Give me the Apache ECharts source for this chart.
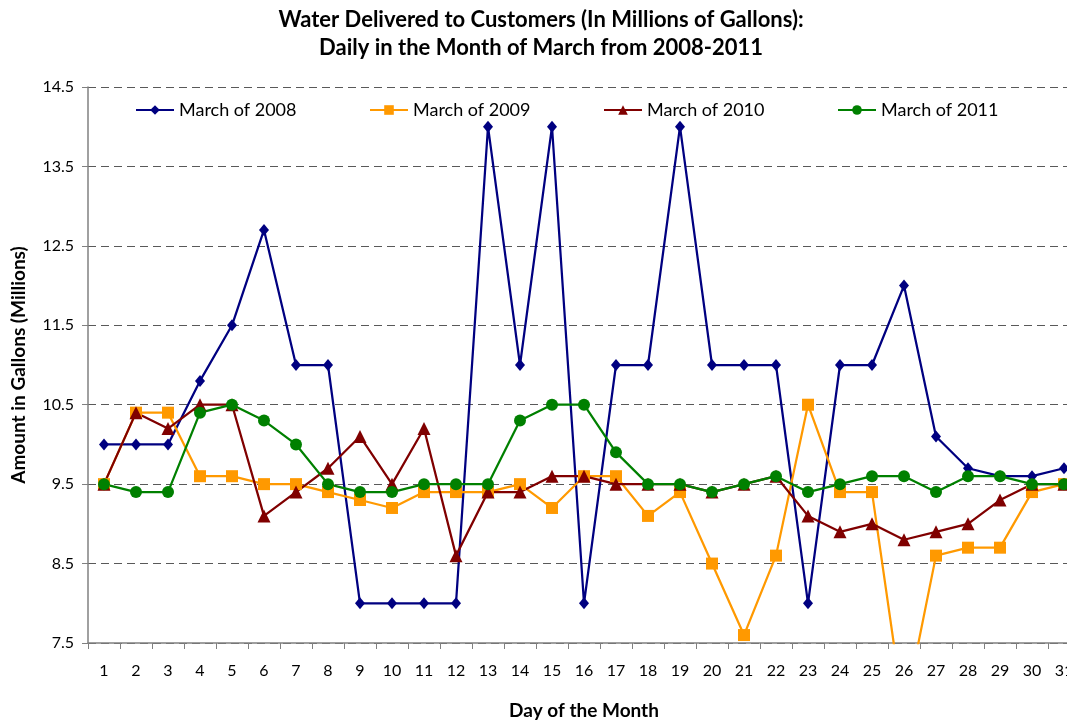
<!DOCTYPE html>
<html>
<head>
<meta charset="utf-8">
<title>Water Delivered to Customers</title>
<script src="https://cdn.jsdelivr.net/npm/echarts@6/dist/echarts.min.js"></script>
<style>
  html, body { margin: 0; padding: 0; background: #ffffff; }
  #chart { width: 1067px; height: 722px; }
</style>
</head>
<body>
<div id="chart"></div>
<script>
// Days of March
const days = Array.from({ length: 31 }, (_, i) => String(i + 1));

// Daily water delivered, millions of gallons
const march2008 = [10, 10, 10, 10.8, 11.5, 12.7, 11, 11, 8, 8, 8, 8, 14, 11, 14, 8,
  11, 11, 14, 11, 11, 11, 8, 11, 11, 12, 10.1, 9.7, 9.6, 9.6, 9.7];
const march2009 = [9.5, 10.4, 10.4, 9.6, 9.6, 9.5, 9.5, 9.4, 9.3, 9.2, 9.4, 9.4, 9.4, 9.5, 9.2, 9.6,
  9.6, 9.1, 9.4, 8.5, 7.6, 8.6, 10.5, 9.4, 9.4, 6.6, 8.6, 8.7, 8.7, 9.4, 9.5];
const march2010 = [9.5, 10.4, 10.2, 10.5, 10.5, 9.1, 9.4, 9.7, 10.1, 9.5, 10.2, 8.6, 9.4, 9.4, 9.6, 9.6,
  9.5, 9.5, 9.5, 9.4, 9.5, 9.6, 9.1, 8.9, 9.0, 8.8, 8.9, 9.0, 9.3, 9.5, 9.5];
const march2011 = [9.5, 9.4, 9.4, 10.4, 10.5, 10.3, 10.0, 9.5, 9.4, 9.4, 9.5, 9.5, 9.5, 10.3, 10.5, 10.5,
  9.9, 9.5, 9.5, 9.4, 9.5, 9.6, 9.4, 9.5, 9.6, 9.6, 9.4, 9.6, 9.6, 9.5, 9.5];

// Value axis tick positions
const yTicks = [7.5, 8.5, 9.5, 10.5, 11.5, 12.5, 13.5, 14.5];

const seriesNames = ['March of 2008', 'March of 2009', 'March of 2010', 'March of 2011'];

const FONT = 'Lato';
const chart = echarts.init(document.getElementById('chart'), null, { renderer: 'canvas' });

function lineSeries(name, data, color, symbol, size) {
  return {
    name: name,
    type: 'line',
    data: data,
    symbol: symbol,
    symbolSize: size,
    showAllSymbol: true,
    clip: true,
    itemStyle: { color: color, borderWidth: 0 },
    lineStyle: { color: color, width: 2.25 },
    emphasis: { disabled: true },
    animation: false
  };
}

function legendAt(left, name) {
  return {
    data: [name],
    left: left,
    top: 101,
    padding: 0,
    itemWidth: 38,
    itemHeight: 12,
    itemGap: 0,
    textStyle: { fontFamily: FONT, fontSize: 18, color: '#000000' },
    selectedMode: false
  };
}

chart.setOption({
  backgroundColor: '#ffffff',
  animation: false,
  title: {
    text: 'Water Delivered to Customers (In Millions of Gallons):\nDaily in the Month of March from 2008-2011',
    left: 541,
    textAlign: 'center',
    top: 6,
    padding: 0,
    textStyle: {
      fontFamily: FONT,
      fontSize: 22,
      fontWeight: 'bold',
      color: '#000000',
      lineHeight: 28
    }
  },
  legend: [
    legendAt(135, seriesNames[0]),
    legendAt(369, seriesNames[1]),
    legendAt(603, seriesNames[2]),
    legendAt(837, seriesNames[3])
  ],
  grid: { left: 88, top: 87, width: 992, height: 556, outerBoundsMode: 'none', containLabel: false },
  xAxis: {
    type: 'category',
    data: days,
    boundaryGap: true,
    name: 'Day of the Month',
    nameLocation: 'middle',
    nameGap: 58,
    nameTextStyle: { fontFamily: FONT, fontSize: 19, fontWeight: 'bold', color: '#000000' },
    axisLine: { lineStyle: { color: '#808080', width: 1.5 } },
    axisTick: { show: true, length: 6, lineStyle: { color: '#808080', width: 1 } },
    axisLabel: { fontFamily: FONT, fontSize: 16, color: '#000000', margin: 20, interval: 0 },
    splitLine: { show: false }
  },
  yAxis: {
    type: 'value',
    min: 7.5,
    max: 14.5,
    name: 'Amount in Gallons (Millions)',
    nameLocation: 'middle',
    nameGap: 60,
    nameRotate: 90,
    nameTextStyle: { fontFamily: FONT, fontSize: 19, fontWeight: 'bold', color: '#000000' },
    axisLine: { show: true, lineStyle: { color: '#808080', width: 1.5 } },
    axisTick: { show: true, length: 6, inside: false, customValues: yTicks, lineStyle: { color: '#808080', width: 1 } },
    axisLabel: {
      fontFamily: FONT, fontSize: 16, color: '#000000', margin: 14,
      customValues: yTicks,
      formatter: v => v.toFixed(1)
    },
    splitLine: { show: true, lineStyle: { color: '#595959', width: 1, type: [8, 5] } }
  },
  series: [
    lineSeries(seriesNames[0], march2008, '#000080', 'diamond', [10, 12]),
    lineSeries(seriesNames[1], march2009, '#FF9900', 'rect', 12),
    lineSeries(seriesNames[2], march2010, '#800000', 'triangle', 13),
    lineSeries(seriesNames[3], march2011, '#008000', 'circle', 12)
  ]
});
</script>
</body>
</html>
